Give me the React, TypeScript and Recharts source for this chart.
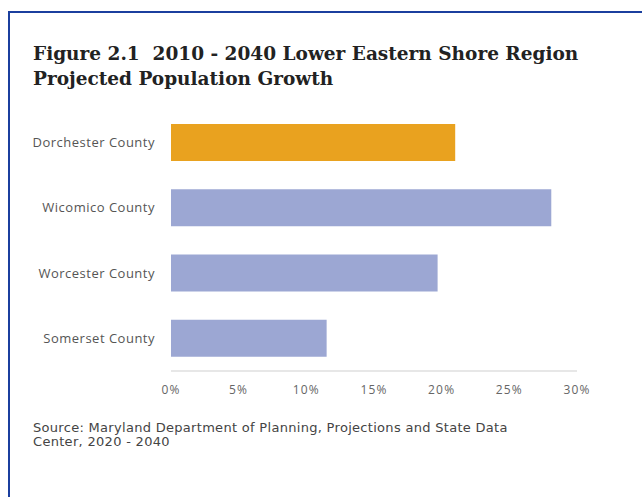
import { BarChart, Bar, XAxis, YAxis, Cell } from 'recharts'

const counties = ['Dorchester County', 'Wicomico County', 'Worcester County', 'Somerset County']
const growth = [0.21, 0.281, 0.197, 0.115]
const barColors = ['#e9a21f', '#9ca7d3', '#9ca7d3', '#9ca7d3']
const xTicks = [0, 0.05, 0.1, 0.15, 0.2, 0.25, 0.3]

const data = counties.map((name, i) => ({ name, value: growth[i] }))

const pct = (v: number) => `${Math.round(v * 100)}%`

export default function App() {
  return (
    <div style={{ position: 'absolute', left: 0, top: 0, width: 642, height: 497, background: '#fff', overflow: 'hidden' }}>
      <div
        style={{
          position: 'absolute', left: 8, top: 11, width: 700, height: 600,
          borderTop: '2px solid #1b3f9e', borderLeft: '2px solid #1b3f9e',
        }}
      />
      <div
        style={{
          position: 'absolute', left: 33, top: 41, width: 600,
          fontFamily: '"DejaVu Serif", serif', fontWeight: 'bold', fontSize: 18.5,
          lineHeight: '25px', color: '#222', whiteSpace: 'nowrap',
        }}
      >
        Figure 2.1&nbsp; 2010 - 2040 Lower Eastern Shore Region<br />
        Projected Population Growth
      </div>
      <div style={{ position: 'absolute', left: 0, top: 100 }}>
        <BarChart
          width={620}
          height={301}
          data={data}
          layout="vertical"
          margin={{ top: 10, right: 43, left: 0, bottom: 0 }}
        >
          <XAxis
            type="number"
            domain={[0, 0.3]}
            ticks={xTicks}
            tickFormatter={pct}
            axisLine={{ stroke: '#cfcfcf' }}
            tickLine={false}
            tickSize={0}
            tickMargin={14}
            height={30}
            tick={{ fontSize: 12, fill: '#666', letterSpacing: 1.2, fontFamily: '"Open Sans", sans-serif' }}
          />
          <YAxis
            type="category"
            dataKey="name"
            width={171}
            axisLine={false}
            tickLine={false}
            tickSize={0}
            tickMargin={16}
            tick={{ fontSize: 13, fill: '#555', letterSpacing: 0.5, fontFamily: '"Open Sans", sans-serif' }}
          />
          <Bar dataKey="value" barSize={37} isAnimationActive={false}>
            {data.map((d, i) => (
              <Cell key={d.name} fill={barColors[i]} />
            ))}
          </Bar>
        </BarChart>
      </div>
      <div
        style={{
          position: 'absolute', left: 33, top: 421, width: 560,
          fontFamily: '"DejaVu Sans", sans-serif', fontSize: 13,
          lineHeight: '13.5px', letterSpacing: 0.3, color: '#444', whiteSpace: 'nowrap',
        }}
      >
        Source: Maryland Department of Planning, Projections and State Data<br />
        Center, 2020 - 2040
      </div>
    </div>
  )
}
